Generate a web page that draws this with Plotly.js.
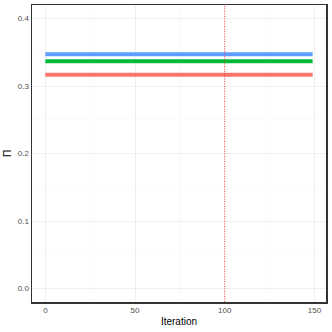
<!DOCTYPE html>
<html>
<head>
<meta charset="utf-8">
<script src="https://cdn.plot.ly/plotly-3.0.1.min.js"></script>
<style>html,body{margin:0;padding:0;background:#fff}</style>
</head>
<body>
<div id="chart" style="width:332px;height:332px"></div>
<script>
const iteration = [0, 149]
const piRed = [0.3165, 0.3165]
const piGreen = [0.3367, 0.3367]
const piBlue = [0.347, 0.347]
const cutoff = 100

const series = [
  {y: piRed, color: '#F8766D'},
  {y: piGreen, color: '#00BA38'},
  {y: piBlue, color: '#619CFF'}
]

const data = series.map(s => ({
  type: 'scatter',
  mode: 'lines',
  x: iteration,
  y: s.y,
  line: {color: s.color, width: 4},
  showlegend: false,
  hoverinfo: 'skip'
}))

const axisCommon = {
  showline: true,
  linecolor: '#333',
  linewidth: 1.5,
  mirror: true,
  zeroline: false,
  gridcolor: '#EBEBEB',
  gridwidth: 0.8,
  ticks: '',
  tickfont: {family: 'Liberation Sans, Arial', size: 8, color: '#4D4D4D'}
}

const layout = {
  width: 332,
  height: 332,
  margin: {l: 32, r: 6, t: 5, b: 30},
  paper_bgcolor: '#fff',
  plot_bgcolor: '#fff',
  font: {family: 'Liberation Sans, Arial', color: '#000'},
  xaxis: Object.assign({}, axisCommon, {
    range: [-7.45, 156.45],
    tickvals: [0, 50, 100, 150],
    minor: {showgrid: true, gridcolor: '#F5F5F5', gridwidth: 0.5, tickvals: [25, 75, 125]},
    title: {text: 'Iteration', font: {size: 10, color: '#000'}, standoff: 4}
  }),
  yaxis: Object.assign({}, axisCommon, {
    range: [-0.02, 0.42],
    tickvals: [0, 0.1, 0.2, 0.3, 0.4],
    tickformat: '.1f',
    minor: {showgrid: true, gridcolor: '#F5F5F5', gridwidth: 0.5, tickvals: [0.05, 0.15, 0.25, 0.35]},
    title: {text: 'Π', font: {size: 10, color: '#000'}, standoff: 4}
  }),
  shapes: [{
    type: 'line', xref: 'x', yref: 'paper',
    x0: cutoff, x1: cutoff, y0: 0, y1: 1,
    line: {color: '#FF3030', width: 0.9, dash: '1px,1.5px'}
  }]
}

Plotly.newPlot('chart', data, layout, {displayModeBar: false, staticPlot: true})
</script>
</body>
</html>
